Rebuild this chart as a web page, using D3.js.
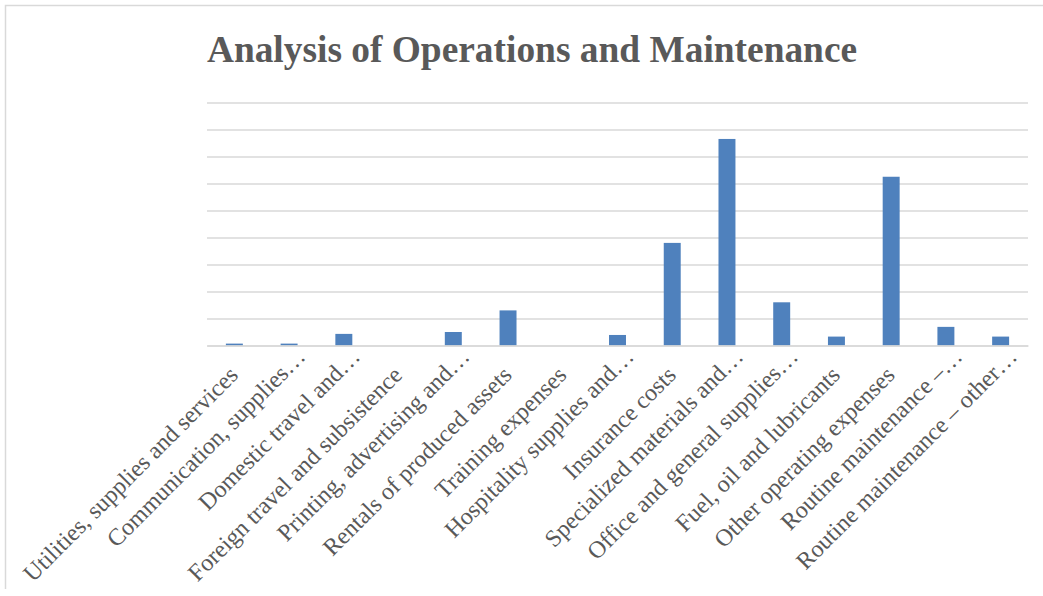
<!DOCTYPE html>
<html>
<head>
<meta charset="utf-8">
<script src="https://cdn.jsdelivr.net/npm/d3@7"></script>
<style>
  html, body { margin: 0; padding: 0; background: #fff; }
  svg { display: block; }
</style>
</head>
<body>
<svg id="chart" width="1043" height="596"></svg>
<script>
const categories = [
  "Utilities, supplies and services",
  "Communication, supplies…",
  "Domestic travel and…",
  "Foreign travel and subsistence",
  "Printing, advertising and…",
  "Rentals of produced assets",
  "Training expenses",
  "Hospitality supplies and…",
  "Insurance costs",
  "Specialized materials and…",
  "Office and general supplies…",
  "Fuel, oil and lubricants",
  "Other operating expenses",
  "Routine maintenance –…",
  "Routine maintenance – other…"
];
const values = [0.07, 0.07, 0.43, 0, 0.5, 1.3, 0, 0.39, 3.8, 7.65, 1.6, 0.33, 6.25, 0.69, 0.33];
const yTicks = [0, 1, 2, 3, 4, 5, 6, 7, 8, 9];
const title = "Analysis of Operations and Maintenance";

const svg = d3.select("#chart");
const plot = { left: 207, right: 1028, top: 102.5, bottom: 345.5 };
const serif = "'Liberation Serif', 'Times New Roman', serif";

// chart frame (left and top edges visible)
svg.append("path")
  .attr("d", "M5.5,589 L5.5,5.5 L1043,5.5")
  .attr("fill", "none").attr("stroke", "#d9d9d9").attr("stroke-width", 1.5);

svg.append("text")
  .attr("x", 532).attr("y", 62)
  .attr("text-anchor", "middle")
  .attr("font-family", serif)
  .attr("font-weight", "bold")
  .attr("font-size", 37.4)
  .attr("fill", "#595959")
  .text(title);

const x = d3.scaleBand().domain(categories).range([plot.left, plot.right]).paddingInner(0.69).paddingOuter(0.345);
const y = d3.scaleLinear().domain([0, 9]).range([plot.bottom, plot.top]);

// gridlines
const yAxis = d3.axisLeft(y).tickValues(yTicks).tickSize(-(plot.right - plot.left)).tickFormat("");
const gy = svg.append("g").attr("transform", `translate(${plot.left},0)`).call(yAxis);
gy.select(".domain").remove();
gy.selectAll(".tick line").attr("stroke", "#d9d9d9").attr("stroke-width", 1.5);

// bars
svg.append("g").selectAll("rect").data(values).join("rect")
  .attr("x", (d, i) => x(categories[i]))
  .attr("width", x.bandwidth())
  .attr("y", d => y(d))
  .attr("height", d => y(0) - y(d))
  .attr("fill", "#4f81bd");

// x axis
const xAxis = d3.axisBottom(x).tickSize(0).tickSizeOuter(0);
const gx = svg.append("g").attr("transform", `translate(0,${plot.bottom})`).call(xAxis);
gx.select(".domain").attr("stroke", "#d9d9d9").attr("stroke-width", 1.5);
gx.selectAll(".tick text")
  .attr("font-family", serif)
  .attr("font-size", 24)
  .attr("fill", "#595959")
  .attr("text-anchor", "end")
  .attr("y", 0)
  .attr("dy", d => d.endsWith("…") ? -4 : 0)
  .attr("dx", d => d.endsWith("…") ? 22 : 0)
  .attr("transform", "translate(5,31) rotate(-45)");
</script>
</body>
</html>
